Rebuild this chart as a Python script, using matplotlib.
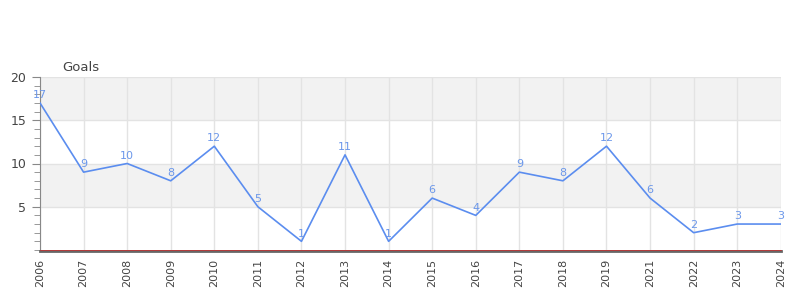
import numpy as np
import matplotlib.pyplot as plt
from matplotlib.ticker import MultipleLocator

# chart data
years = ['2006', '2007', '2008', '2009', '2010', '2011', '2012', '2013', '2014',
         '2015', '2016', '2017', '2018', '2019', '2021', '2022', '2023', '2024']
goals = [17, 9, 10, 8, 12, 5, 1, 11, 1, 6, 4, 9, 8, 12, 6, 2, 3, 3]

line_color = '#5b8def'
label_color = '#6b97ea'
grid_color = '#e3e3e3'
text_color = '#444444'

fig = plt.figure(figsize=(8, 3), dpi=100)
ax = fig.add_axes([0.05, 0.1667, 0.926, 0.5766])

# spines first, set_position resets tick settings
for side in ['top', 'right']:
    ax.spines[side].set_visible(False)
ax.spines['bottom'].set_position(('outward', 0.5))
ax.spines['left'].set_color('#888888')
ax.spines['bottom'].set_color('#666666')
ax.spines['bottom'].set_linewidth(2)

x = np.arange(len(years))

# alternating bands
for lo, hi in [(5, 10), (15, 20)]:
    ax.axhspan(lo, hi, color='#f2f2f2', zorder=0, lw=0)

ax.plot(x, goals, color=line_color, lw=1.2, zorder=3)
for xi, g in zip(x, goals):
    ax.annotate(str(g), (xi, g), xytext=(0, 2), textcoords='offset points',
                ha='center', va='bottom', color=label_color, fontsize=8, zorder=4)

ax.set_xlim(0, len(years) - 1)
ax.set_ylim(0, 20)
ax.set_xticks(x)
ax.set_xticklabels(years, rotation=90, fontsize=8, color=text_color)
ax.set_yticks([5, 10, 15, 20])
ax.set_yticklabels(['5', '10', '15', '20'], fontsize=9, color=text_color)
ax.yaxis.set_minor_locator(MultipleLocator(1))

ax.grid(True, color=grid_color, lw=1, zorder=1)
ax.set_axisbelow(True)

ax.axhline(0, color='#cc2222', lw=0.5, zorder=5, clip_on=False)

ax.tick_params(axis='y', which='major', length=6, color='#888888', pad=4)
ax.tick_params(axis='y', which='minor', length=4, color='#888888')
ax.tick_params(axis='x', length=0, pad=6)

ax.text(0.03, 1.02, 'Goals', transform=ax.transAxes, fontsize=9.5,
        color=text_color, ha='left', va='bottom')

fig.savefig('out.png', dpi=100)
